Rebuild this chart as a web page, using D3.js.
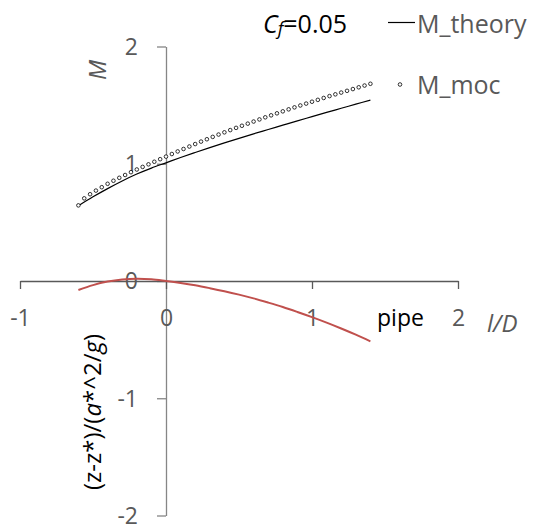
<!DOCTYPE html>
<html>
<head>
<meta charset="utf-8">
<script src="https://cdn.jsdelivr.net/npm/d3@7"></script>
<style>
  body { margin: 0; background: #fff; }
  svg text { font-family: "Open Sans", "Noto Sans", sans-serif; }
</style>
</head>
<body>
<div id="chart"></div>
<script>
// values
var xTheory = [-0.6, -0.5, -0.4, -0.3, -0.2, -0.1, 0.0, 0.1, 0.2, 0.3, 0.4, 0.5, 0.6, 0.7, 0.8, 0.9, 1.0, 1.1, 1.2, 1.3, 1.4];
var mTheory = [0.642, 0.718, 0.788, 0.853, 0.912, 0.963, 1.008, 1.053, 1.096, 1.138, 1.178, 1.217, 1.255, 1.292, 1.329, 1.366, 1.402, 1.438, 1.473, 1.508, 1.543];

var xMoc = [-0.60, -0.56, -0.52, -0.48, -0.44, -0.40, -0.36, -0.32, -0.28, -0.24, -0.20, -0.16, -0.12, -0.08, -0.04,
            0.00, 0.04, 0.08, 0.12, 0.16, 0.20, 0.24, 0.28, 0.32, 0.36, 0.40, 0.44, 0.48, 0.52, 0.56, 0.60, 0.64, 0.68,
            0.72, 0.76, 0.80, 0.84, 0.88, 0.92, 0.96, 1.00, 1.04, 1.08, 1.12, 1.16, 1.20, 1.24, 1.28, 1.32, 1.36, 1.40];
var mMoc = [0.645, 0.705, 0.740, 0.771, 0.800, 0.829, 0.855, 0.880, 0.904, 0.928, 0.951, 0.973, 0.995, 1.017, 1.039,
            1.061, 1.083, 1.105, 1.126, 1.147, 1.168, 1.189, 1.209, 1.229, 1.249, 1.268, 1.287, 1.306, 1.324, 1.342, 1.360, 1.378, 1.396,
            1.413, 1.430, 1.447, 1.464, 1.481, 1.497, 1.513, 1.529, 1.545, 1.561, 1.577, 1.592, 1.607, 1.622, 1.637, 1.652, 1.667, 1.682];

var xPipe = [-0.6, -0.5, -0.4, -0.3, -0.2, -0.1, 0.0, 0.1, 0.2, 0.3, 0.4, 0.5, 0.6, 0.7, 0.8, 0.9, 1.0, 1.1, 1.2, 1.3, 1.4];
var zPipe = [-0.077, -0.035, -0.005, 0.013, 0.020, 0.015, 0.0, -0.017, -0.037, -0.061, -0.087, -0.116, -0.148, -0.184, -0.222, -0.264, -0.308, -0.355, -0.405, -0.458, -0.515];

var xTicks = [-1, 0, 1, 2];
var yTicks = [-2, -1, 0, 1, 2];

var width = 535, height = 527;

var x = d3.scaleLinear().domain([-1, 2]).range([20, 458]);
var y = d3.scaleLinear().domain([-2, 2]).range([515.5, 46.5]);

// plain hyphen minus like the original
var fmt = function(d) { return String(d); };

var svg = d3.select("#chart")
    .append("svg")
    .attr("width", width)
    .attr("height", height);

// y axis (through x = 0)
var yAxis = svg.append("g")
    .attr("transform", "translate(" + x(0) + ",0)")
    .call(d3.axisLeft(y).tickValues(yTicks).tickSize(9).tickSizeOuter(0).tickPadding(19).tickFormat(fmt));
yAxis.select(".domain").attr("stroke", "#868686").attr("stroke-width", 1.3);
yAxis.selectAll(".tick line").attr("stroke", "#868686").attr("stroke-width", 1.3);
yAxis.selectAll(".tick text")
    .attr("dy", "0.34em")
    .attr("fill", "#595959")
    .style("font-size", "23px");

// x axis (through y = 0)
var xAxis = svg.append("g")
    .attr("transform", "translate(0," + y(0) + ")")
    .call(d3.axisBottom(x).tickValues(xTicks).tickSize(8).tickSizeOuter(0).tickFormat(fmt));
xAxis.select(".domain").attr("stroke", "#595959").attr("stroke-width", 1.3);
xAxis.selectAll(".tick line").attr("stroke", "#595959").attr("stroke-width", 1.3);
xAxis.selectAll(".tick text")
    .attr("y", 45)
    .attr("dy", null)
    .attr("fill", "#595959")
    .style("font-size", "23px");

var curve = d3.curveCatmullRom;

// pipe profile
svg.append("path")
    .datum(d3.zip(xPipe, zPipe))
    .attr("fill", "none")
    .attr("stroke", "#C0504D")
    .attr("stroke-width", 2)
    .attr("d", d3.line().curve(curve).x(function(d) { return x(d[0]); }).y(function(d) { return y(d[1]); }));

// M theory
svg.append("path")
    .datum(d3.zip(xTheory, mTheory))
    .attr("fill", "none")
    .attr("stroke", "#000")
    .attr("stroke-width", 1.2)
    .attr("d", d3.line().curve(curve).x(function(d) { return x(d[0]); }).y(function(d) { return y(d[1]); }));

// M moc markers
svg.append("g")
    .selectAll("circle")
    .data(d3.zip(xMoc, mMoc))
    .enter().append("circle")
    .attr("cx", function(d) { return x(d[0]); })
    .attr("cy", function(d) { return y(d[1]); })
    .attr("r", 1.8)
    .attr("fill", "#fff")
    .attr("stroke", "#000")
    .attr("stroke-width", 0.8);

// axis titles
svg.append("text")
    .attr("transform", "translate(106,70) rotate(-90)")
    .attr("text-anchor", "middle")
    .attr("fill", "#595959")
    .style("font-size", "24px")
    .style("font-style", "italic")
    .text("M");

var yt = svg.append("text")
    .attr("transform", "translate(101,412) rotate(-90)")
    .attr("text-anchor", "middle")
    .attr("fill", "#000")
    .style("font-size", "24px");
yt.append("tspan").text("(z-z*)/(");
yt.append("tspan").style("font-style", "italic").text("a");
yt.append("tspan").text("*^2/");
yt.append("tspan").style("font-style", "italic").text("g");
yt.append("tspan").text(")");

svg.append("text")
    .attr("x", 487)
    .attr("y", 332)
    .attr("fill", "#595959")
    .style("font-size", "24px")
    .style("font-style", "italic")
    .text("l/D");

svg.append("text")
    .attr("x", 377)
    .attr("y", 326)
    .attr("fill", "#000")
    .style("font-size", "23px")
    .text("pipe");

// friction coefficient note
var cf = svg.append("text")
    .attr("x", 263)
    .attr("y", 33)
    .attr("fill", "#000")
    .style("font-size", "25px");
cf.append("tspan").style("font-style", "italic").text("C");
cf.append("tspan").style("font-style", "italic").style("font-size", "18px").attr("dy", 2).text("f");
cf.append("tspan").attr("dy", -2).text("=0.05");

// legend
var legend = svg.append("g");
legend.append("line")
    .attr("x1", 388).attr("x2", 415)
    .attr("y1", 22.5).attr("y2", 22.5)
    .attr("stroke", "#000")
    .attr("stroke-width", 1.2);
legend.append("text")
    .attr("x", 417).attr("y", 33)
    .attr("fill", "#595959")
    .style("font-size", "25px")
    .text("M_theory");
legend.append("circle")
    .attr("cx", 400).attr("cy", 84.5)
    .attr("r", 1.8)
    .attr("fill", "#fff")
    .attr("stroke", "#000")
    .attr("stroke-width", 0.8);
legend.append("text")
    .attr("x", 417).attr("y", 94)
    .attr("fill", "#595959")
    .style("font-size", "25px")
    .text("M_moc");
</script>
</body>
</html>
